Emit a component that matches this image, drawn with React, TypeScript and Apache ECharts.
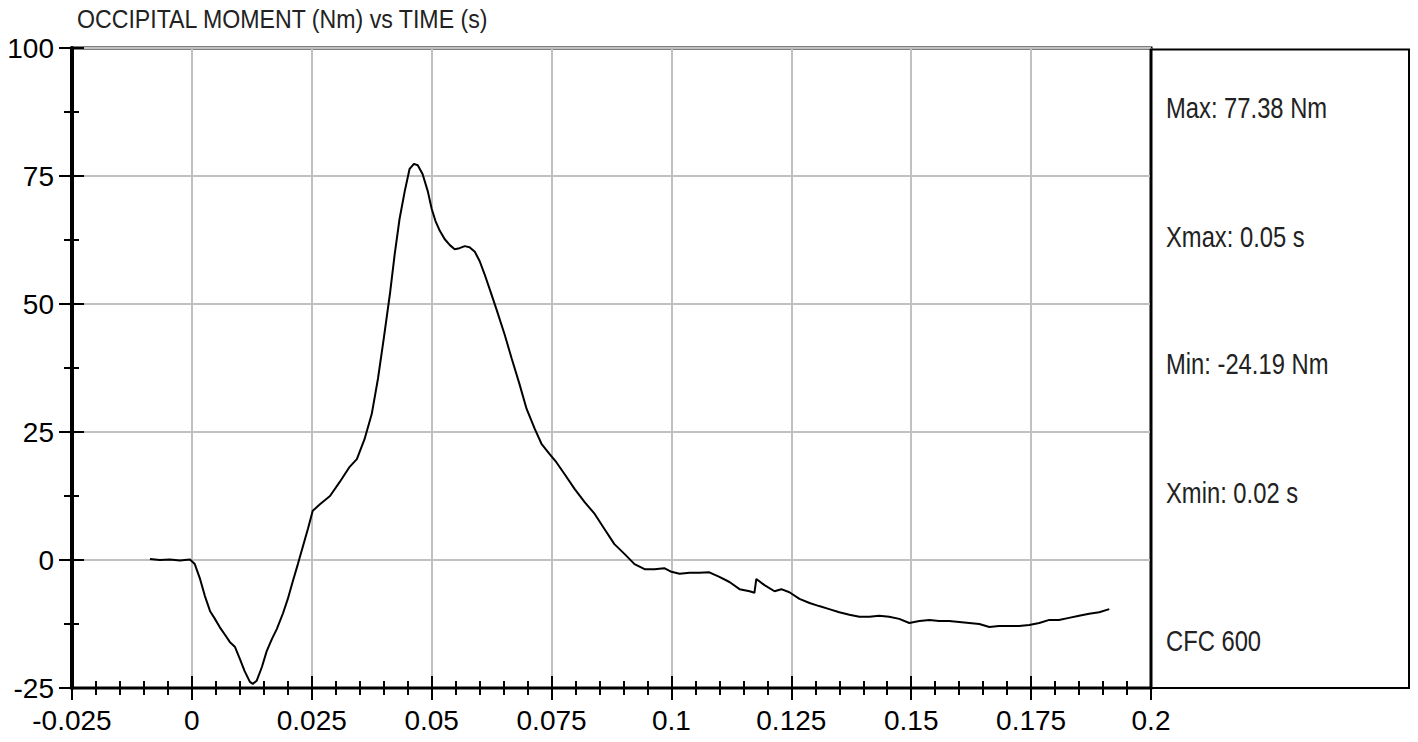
import React, { useEffect, useRef } from "react";
import * as echarts from "echarts";

const TITLE = "OCCIPITAL MOMENT (Nm) vs TIME (s)";
const STATS = ["Max: 77.38 Nm", "Xmax: 0.05 s", "Min: -24.19 Nm", "Xmin: 0.02 s", "CFC 600"];

const X_MIN = -0.025;
const X_MAX = 0.2;
const X_STEP = 0.025;
const Y_MIN = -25;
const Y_MAX = 100;
const Y_STEP = 25;

const time = [
  -0.00875, -0.00667, -0.00458, -0.0025, -0.0004, 0.0006, 0.0017, 0.0027, 0.0038, 0.0048,
  0.0058, 0.0069, 0.0079, 0.009, 0.01, 0.011, 0.0121, 0.0127, 0.0135, 0.0146,
  0.0156, 0.0167, 0.0177, 0.019, 0.02, 0.021, 0.0221, 0.0231, 0.0242, 0.0252,
  0.0267, 0.0288, 0.0308, 0.0329, 0.0344, 0.036, 0.0375, 0.0388, 0.04, 0.0413,
  0.0423, 0.0433, 0.0444, 0.0454, 0.0463, 0.0471, 0.0481, 0.0492, 0.05, 0.0508,
  0.0517, 0.0527, 0.0538, 0.0548, 0.0558, 0.0569, 0.0579, 0.059, 0.06, 0.061,
  0.0621, 0.0635, 0.0652, 0.0667, 0.0683, 0.0698, 0.0715, 0.0729, 0.0746, 0.076,
  0.0777, 0.0798, 0.0819, 0.084, 0.086, 0.0881, 0.0902, 0.0923, 0.0944, 0.0965,
  0.0985, 0.1, 0.1017, 0.1038, 0.1058, 0.1079, 0.11, 0.1121, 0.1142, 0.1163,
  0.1173, 0.1177, 0.1194, 0.1215, 0.1229, 0.1246, 0.1267, 0.1288, 0.1308, 0.1329,
  0.135, 0.1371, 0.1392, 0.1413, 0.1433, 0.1454, 0.1475, 0.1496, 0.1517, 0.1538,
  0.1558, 0.1579, 0.16, 0.1621, 0.1642, 0.1663, 0.1683, 0.1704, 0.1725, 0.1746,
  0.1767, 0.1788, 0.1808, 0.1829, 0.185, 0.1871, 0.1892, 0.1913,
];

const moment = [
  0.2, 0.0, 0.1, -0.1, 0.1, -0.8, -3.7, -7.0, -10.0, -11.5,
  -13.1, -14.6, -16.0, -17.0, -19.3, -21.7, -23.8, -24.19, -23.6, -20.9,
  -17.8, -15.4, -13.5, -10.4, -7.6, -4.3, -0.8, 2.5, 6.1, 9.6,
  10.9, 12.5, 15.2, 18.2, 19.7, 23.6, 28.5, 35.4, 43.2, 52.0,
  59.8, 66.6, 72.1, 76.4, 77.38, 77.1, 75.4, 72.0, 68.6, 66.2,
  64.3, 62.7, 61.5, 60.7, 60.9, 61.3, 61.1, 60.2, 58.4, 55.9,
  52.9, 49.0, 44.1, 39.3, 34.4, 29.5, 25.6, 22.7, 20.7, 19.1,
  16.8, 13.9, 11.3, 9.0, 6.1, 3.1, 1.2, -0.8, -1.8, -1.8,
  -1.6, -2.3, -2.7, -2.5, -2.5, -2.4, -3.3, -4.3, -5.7, -6.1,
  -6.4, -3.7, -4.9, -6.1, -5.7, -6.3, -7.6, -8.4, -9.0, -9.6,
  -10.2, -10.7, -11.1, -11.1, -10.9, -11.1, -11.5, -12.3, -11.9, -11.7,
  -11.9, -11.9, -12.1, -12.3, -12.5, -13.1, -12.9, -12.9, -12.9, -12.7,
  -12.3, -11.7, -11.7, -11.3, -10.9, -10.5, -10.2, -9.6,
];

const AXIS_FONT = "'Liberation Sans', Arial, sans-serif";
const TEXT_FONT = "'Liberation Sans Narrow', 'Liberation Sans', Arial, sans-serif";

export default function App() {
  const ref = useRef<HTMLDivElement>(null);

  useEffect(() => {
    if (!ref.current) return;
    const chart = echarts.init(ref.current, undefined, { renderer: "svg" });

    const fmt = (v: number) => String(parseFloat(v.toFixed(4)));

    const baseX = {
      type: "value" as const,
      min: X_MIN,
      max: X_MAX,
      interval: X_STEP,
      position: "bottom" as const,
    };
    const baseY = {
      type: "value" as const,
      min: Y_MIN,
      max: Y_MAX,
      interval: Y_STEP,
      position: "left" as const,
    };

    const statY = [108, 237, 364, 493, 641];
    const statTexts = STATS.map((t, i) => ({
      type: "text",
      x: 1166,
      y: statY[i],
      scaleX: 0.82,
      style: {
        text: t,
        font: `29px ${TEXT_FONT}`,
        fill: "#222",
        verticalAlign: "middle",
        align: "left",
      },
      z: 10,
    }));

    chart.setOption({
      animation: false,
      backgroundColor: "#fff",
      grid: {
        left: 72,
        right: 267,
        top: 48,
        bottom: 54,
        show: true,
        borderColor: "#000",
        borderWidth: 3,
        backgroundColor: "transparent",
      },
      xAxis: [
        {
          ...baseX,
          axisLine: { show: true, onZero: false, lineStyle: { color: "#000", width: 2 } },
          axisTick: { show: true, inside: false, length: 12, lineStyle: { color: "#000", width: 2 } },
          minorTick: { show: true, splitNumber: 5, length: 7, lineStyle: { color: "#000", width: 2 } },
          splitLine: { show: true, lineStyle: { color: "#c0c0c0", width: 2 } },
          axisLabel: {
            show: true,
            margin: 18,
            fontSize: 28,
            color: "#000",
            fontFamily: AXIS_FONT,
            formatter: fmt,
          },
        },
        {
          ...baseX,
          z: 5,
          axisLine: { show: false, onZero: false },
          axisTick: { show: true, inside: true, length: 12, lineStyle: { color: "#000", width: 2 } },
          minorTick: { show: true, splitNumber: 5, length: 7, lineStyle: { color: "#000", width: 2 } },
          splitLine: { show: false },
          axisLabel: { show: false },
        },
      ],
      yAxis: [
        {
          ...baseY,
          axisLine: { show: true, onZero: false, lineStyle: { color: "#000", width: 4 } },
          axisTick: { show: true, inside: false, length: 13, lineStyle: { color: "#000", width: 2 } },
          minorTick: { show: true, splitNumber: 2, length: 8, lineStyle: { color: "#000", width: 2 } },
          splitLine: { show: true, lineStyle: { color: "#c0c0c0", width: 2 } },
          axisLabel: {
            show: true,
            margin: 18,
            fontSize: 28,
            color: "#000",
            fontFamily: AXIS_FONT,
          },
        },
        {
          ...baseY,
          z: 5,
          axisLine: { show: false, onZero: false },
          axisTick: { show: true, inside: true, length: 12, lineStyle: { color: "#000", width: 2 } },
          minorTick: { show: true, splitNumber: 2, length: 7, lineStyle: { color: "#000", width: 2 } },
          splitLine: { show: false },
          axisLabel: { show: false },
        },
      ],
      graphic: [
        {
          type: "rect",
          shape: { x: 1151, y: 49.5, width: 258, height: 638.5 },
          style: { fill: "none", stroke: "#000", lineWidth: 2 },
          z: 1,
        },
        {
          type: "text",
          x: 77,
          y: 19,
          scaleX: 0.89,
          style: {
            text: TITLE,
            font: `26px ${TEXT_FONT}`,
            fill: "#222",
            verticalAlign: "middle",
            align: "left",
          },
          z: 10,
        },
        ...statTexts,
      ],
      series: [
        {
          type: "line",
          xAxisIndex: 0,
          yAxisIndex: 0,
          data: time.map((t, i) => [t, moment[i]]),
          showSymbol: false,
          symbol: "none",
          lineStyle: { color: "#000", width: 2 },
          z: 3,
        },
      ],
    });

    return () => chart.dispose();
  }, []);

  return (
    <div
      ref={ref}
      style={{ position: "absolute", left: 0, top: 0, width: 1418, height: 742 }}
    />
  );
}
